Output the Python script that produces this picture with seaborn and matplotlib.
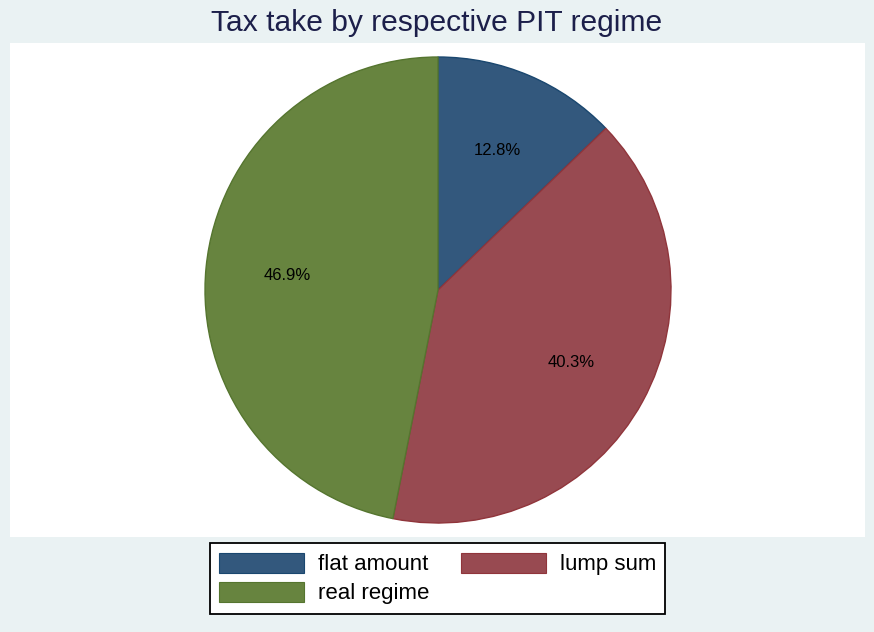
import matplotlib
matplotlib.use("Agg")
import matplotlib.pyplot as plt
import seaborn as sns
from matplotlib.patches import Patch

# Share of PIT tax take by regime (percent)
regimes = ["flat amount", "lump sum", "real regime"]
shares = [12.8, 40.3, 46.9]
fill_colors = ["#33587d", "#984a51", "#67843f"]
edge_colors = ["#1a476f", "#90353b", "#55752f"]
title = "Tax take by respective PIT regime"

sns.set_theme(style="white")
plt.rcParams["font.family"] = ["Liberation Sans", "DejaVu Sans"]
plt.rcParams["text.color"] = "black"

W, H = 874, 632
fig = plt.figure(figsize=(W / 100, H / 100), dpi=100, facecolor="#eaf2f3")

# white plot region (pixel box: x 10..865, y 43..537)
x0, x1, y0, y1 = 10, 865, 43, 537
ax = fig.add_axes([x0 / W, 1 - y1 / H, (x1 - x0) / W, (y1 - y0) / H])
ax.set_facecolor("white")

wedges, texts, autotexts = ax.pie(
    shares,
    colors=fill_colors,
    startangle=90,
    counterclock=False,
    center=(438, H - 290),
    radius=233,
    autopct="%.1f%%",
    pctdistance=0.65,
    frame=True,
    textprops=dict(fontsize=12, color="black"),
)
for w, ec in zip(wedges, edge_colors):
    w.set_edgecolor(ec)
    w.set_linewidth(1.0)
ax.set_xlim(x0, x1)
ax.set_ylim(H - y1, H - y0)
ax.set_aspect("equal")
ax.set_xticks([])
ax.set_yticks([])
for s in ax.spines.values():
    s.set_visible(False)

fig.text(0.5, 1 - 23 / H, title, ha="center", va="center",
         fontsize=21.6, color="#1c1f4a")

handles = [Patch(facecolor=c, edgecolor=e, linewidth=0.8)
           for c, e in zip(fill_colors, edge_colors)]
order = [0, 2, 1]
leg = fig.legend(
    [handles[i] for i in order],
    [regimes[i] for i in order],
    ncol=2,
    loc="center",
    bbox_to_anchor=(437.5 / W, 1 - 578.5 / H),
    fontsize=16,
    labelcolor="black",
    frameon=True,
    fancybox=False,
    handlelength=3.8,
    handleheight=1.04,
    handletextpad=0.63,
    columnspacing=1.45,
    labelspacing=0.28,
    borderpad=0.42,
    borderaxespad=0,
)
frame = leg.get_frame()
frame.set_edgecolor("black")
frame.set_linewidth(1.3)
frame.set_facecolor("white")
frame.set_alpha(1)

fig.savefig("out.png", dpi=100, facecolor=fig.get_facecolor())
